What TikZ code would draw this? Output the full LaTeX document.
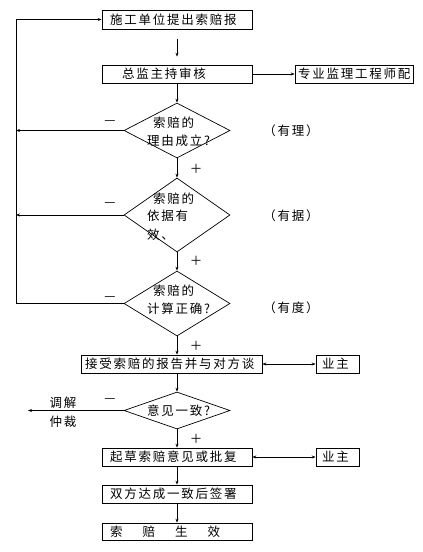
\documentclass[tikz,border=0pt]{standalone}
\usepackage{fontspec}
\newfontfamily\cjk[LetterSpace=14]{Noto Sans CJK SC}
\usetikzlibrary{shapes.geometric,arrows.meta}
\tikzset{
  box/.style={draw, line width=0.7pt, minimum height=18pt, inner sep=0pt},
  dia/.style={draw, diamond, line width=0.7pt, inner sep=0pt},
  txt/.style={anchor=west, inner sep=0pt},
  lbl/.style={inner sep=0pt},
  conn/.style={line width=0.7pt, -{Stealth[length=4pt,width=3pt]}},
  dconn/.style={line width=0.7pt, {Stealth[length=4pt,width=3pt]}-{Stealth[length=4pt,width=3pt]}},
  plain/.style={line width=0.7pt}
}
\begin{document}
\begin{tikzpicture}[x=1pt,y=-1pt,font=\cjk\fontsize{12.5}{15}\selectfont]
\useasboundingbox (0,0) rectangle (423,552);
% boxes
\node[box, minimum width=150pt, minimum height=19pt] (b1) at (177,19.5) {};
\node[txt] (t1) at (110,19.5) {施工单位提出索赔报};
\node[box, minimum width=150pt] (b2) at (177,74) {};
\node[txt] (t2) at (122,74) {总监主持审核};
\node[box, minimum width=118pt] (b3) at (354,74) {};
\node[txt] (t3) at (298,74) {专业监理工程师配};
% diamonds
\node[dia, minimum width=106pt, minimum height=55pt] (d1) at (177,130.5) {};
\node[txt] (d1a) at (153,123) {索赔的};
\node[txt] (d1b) at (147,141) {理由成立?};
\node[dia, minimum width=106pt, minimum height=74pt] (d2) at (177,215) {};
\node[txt] (d2a) at (153,199) {索赔的};
\node[txt] (d2b) at (147,216) {依据有};
\node[txt] (d2c) at (147,235) {效、};
\node[dia, minimum width=106pt, minimum height=65pt] (d3) at (177,303.5) {};
\node[txt] (d3a) at (153,291) {索赔的};
\node[txt] (d3b) at (147,309) {计算正确?};
% side labels
\node[lbl] (y1) at (291,131) {（有理）};
\node[lbl] (y2) at (291,216) {（有据）};
\node[lbl] (y3) at (291,308) {（有度）};
\node[lbl] (m1) at (110,123) {—};
\node[lbl] (m2) at (110,205) {—};
\node[lbl] (m3) at (110,299) {—};
\node[lbl] (m4) at (110,401) {—};
\node[lbl] (p1) at (196,169) {＋};
\node[lbl] (p2) at (196,261) {＋};
\node[lbl] (p3) at (196,346) {＋};
\node[lbl] (p4) at (196,439) {＋};
% lower part
\node[box, minimum width=181pt] (b4) at (171.5,364) {};
\node[txt] (t4) at (85,364) {接受索赔的报告并与对方谈};
\node[box, minimum width=43pt] (o1) at (337.5,364) {};
\node[txt] (to1) at (322,364) {业主};
\node[dia, minimum width=106pt, minimum height=37pt] (d4) at (177,410.5) {};
\node[txt] (d4a) at (147,411) {意见一致?};
\node[lbl] (w1) at (63,403) {调解};
\node[lbl] (w2) at (63,422) {仲裁};
\coordinate (wend) at (28,410.5);
\node[box, minimum width=150pt] (b5) at (177,457) {};
\node[txt] (t5) at (110,457) {起草索赔意见或批复};
\node[box, minimum width=43pt] (o2) at (337.5,457) {};
\node[txt] (to2) at (322,457) {业主};
\node[box, minimum width=150pt] (b6) at (177,494) {};
\node[txt] (t6) at (110,494) {双方达成一致后签署};
\node[box, minimum width=150pt, minimum height=17pt] (b7) at (177,531.5) {};
\node[txt] (t7) at (110,531.5) {索\hspace{20pt}赔\hspace{20pt}生\hspace{20pt}效};
% connectors
\coordinate (lp) at (16,19.5);
\draw[conn, shorten <=10pt, shorten >=8pt] (b1) -- (b2);
\draw[conn] (b2.east) -- (b3.west);
\draw[conn] (b2) -- (d1);
\draw[conn] (d1) -- (d2);
\draw[conn] (d2) -- (d3);
\draw[conn] (d3) -- (b4.north -| d3.south);
\draw[conn] (b4.south -| d4.north) -- (d4);
\draw[conn] (d4) -- (b5);
\draw[conn] (b5) -- (b6);
\draw[conn] (b6) -- (b7);
\draw[conn] (d1.west) -- (d1.west -| lp);
\draw[conn] (d2.west) -- (d2.west -| lp);
\draw[conn] (d3.west) -| (lp) -- (b1.west);
\draw[conn] (d4.west) -- (wend);
\draw[dconn] (b4.east) -- (o1.west);
\draw[dconn] (b5.east) -- (o2.west);
\end{tikzpicture}
\end{document}
